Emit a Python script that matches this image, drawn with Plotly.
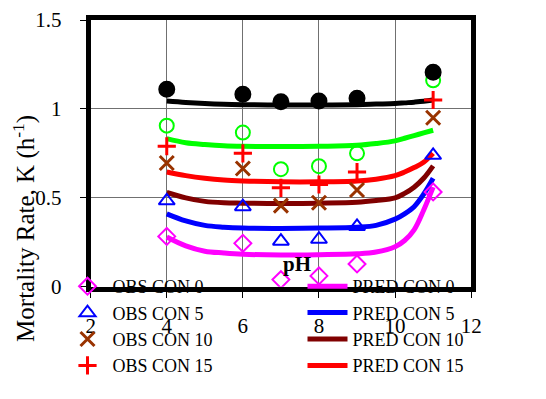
import plotly.graph_objects as go

# observed points
ph_obs = [4, 6, 7, 8, 9, 11]
obs_con0 = [0.283, 0.244, 0.04, 0.061, 0.128, 0.533]
obs_con5 = [0.483, 0.45, 0.256, 0.267, 0.339, 0.739]
obs_con10 = [0.696, 0.665, 0.456, 0.472, 0.544, 0.95]
obs_con15 = [0.79, 0.75, 0.556, 0.575, 0.645, 1.05]
obs_con20 = [0.906, 0.867, 0.661, 0.678, 0.75, 1.161]
obs_con25 = [1.111, 1.083, 1.04, 1.044, 1.06, 1.206]

# predicted curves
ph_pred = [4, 4.5, 5, 5.5, 6, 7, 8, 9, 9.5, 10, 10.25, 10.5, 10.75, 11]
pred_con0 = [0.28, 0.23, 0.2, 0.19, 0.183, 0.178, 0.18, 0.185, 0.195, 0.225, 0.26, 0.32, 0.43, 0.56]
pred_con5 = [0.41, 0.37, 0.345, 0.335, 0.33, 0.328, 0.33, 0.335, 0.345, 0.38, 0.41, 0.45, 0.52, 0.61]
pred_con10 = [0.53, 0.5, 0.48, 0.472, 0.47, 0.468, 0.47, 0.475, 0.485, 0.5, 0.525, 0.56, 0.61, 0.68]
pred_con15 = [0.645, 0.625, 0.61, 0.6, 0.595, 0.59, 0.59, 0.595, 0.605, 0.625, 0.645, 0.67, 0.7, 0.75]
pred_con20 = [0.833, 0.81, 0.8, 0.793, 0.79, 0.788, 0.79, 0.795, 0.805, 0.82, 0.835, 0.85, 0.865, 0.88]
pred_con25 = [1.044, 1.036, 1.03, 1.026, 1.024, 1.022, 1.022, 1.024, 1.027, 1.03, 1.034, 1.038, 1.043, 1.05]

FONT = "Liberation Serif, Times New Roman, serif"

obs = [
    ("OBS CON 0", obs_con0, "#FF00FF", "diamond-open", 13),
    ("OBS CON 5", obs_con5, "#0000FF", "triangle-up-open", 14),
    ("OBS CON 10", obs_con10, "#993300", "x-thin-open", 14),
    ("OBS CON 15", obs_con15, "#FF0000", "cross-thin-open", 13),
    ("OBS CON 20", obs_con20, "#00FF00", "circle-open", 14),
    ("OBS CON 25", obs_con25, "#000000", "circle", 15),
]
pred = [
    ("PRED CON 0", pred_con0, "#FF00FF"),
    ("PRED CON 5", pred_con5, "#0000FF"),
    ("PRED CON 10", pred_con10, "#800000"),
    ("PRED CON 15", pred_con15, "#FF0000"),
    ("PRED CON 20", pred_con20, "#00FF00"),
    ("PRED CON 25", pred_con25, "#000000"),
]

fig = go.Figure()

# curves first so the markers sit on top; only CON 0-15 appear in the legend
for i, (name, ys, col) in enumerate(pred):
    fig.add_trace(go.Scatter(x=ph_pred, y=ys, name=name, mode="lines", showlegend=i < 4,
                             legendrank=2 * i + 2,
                             line=dict(color=col, width=5, shape="spline")))

for i, (name, ys, col, sym, sz) in enumerate(obs):
    fig.add_trace(go.Scatter(x=ph_obs, y=ys, name=name, mode="markers", showlegend=i < 4,
                             legendrank=2 * i + 1,
                             marker=dict(symbol=sym, size=sz, color=col,
                                         line=dict(color=col, width=3 if "thin" in sym else 2))))

fig.add_annotation(text="<b>pH</b>", x=0.541, y=0.085, xref="x domain", yref="y domain",
                   xanchor="center", yanchor="middle", showarrow=False,
                   font=dict(size=21, color="black", family=FONT))

# plot box sits inside a larger paper area so the legend below it pushes no margins
fig.update_xaxes(domain=[0.1465, 0.8645], range=[2, 12], dtick=2,
                 showgrid=True, gridcolor="#707070", gridwidth=1,
                 showline=True, linecolor="black", linewidth=5, mirror=True,
                 ticks="outside", ticklen=6, tickcolor="black", ticklabelstandoff=10,
                 zeroline=False, tickfont=dict(size=21, family=FONT, color="black"))
# an invisible tail on the rotated title moves the visible words down the axis
pad = "<span style='color:rgba(0,0,0,0)'>" + "_" * 12 + "</span>"
fig.update_yaxes(domain=[0.2887, 1], range=[0, 1.5], dtick=0.5,
                 showgrid=True, gridcolor="#707070", gridwidth=1,
                 showline=True, linecolor="black", linewidth=5, mirror=True,
                 ticks="outside", ticklen=6, tickcolor="black", ticklabelstandoff=14,
                 ticklabeloverflow="allow",
                 zeroline=False, tickfont=dict(size=21, family=FONT, color="black"),
                 title=dict(text="Mortality Rate, K (h<sup>-1</sup>)" + pad,
                            standoff=2, font=dict(size=25, family=FONT, color="black")))

fig.update_layout(
    width=546, height=399,
    margin=dict(l=0, r=0, t=9, b=9),
    paper_bgcolor="white", plot_bgcolor="white",
    font=dict(family=FONT, color="black"),
    legend=dict(orientation="h", x=0.0934, y=0.3386, xanchor="left", yanchor="top",
                entrywidth=185, entrywidthmode="pixels", itemwidth=40,
                traceorder="normal", bgcolor="rgba(0,0,0,0)",
                font=dict(size=18, family=FONT, color="black")),
)

fig.write_html("out.html")
